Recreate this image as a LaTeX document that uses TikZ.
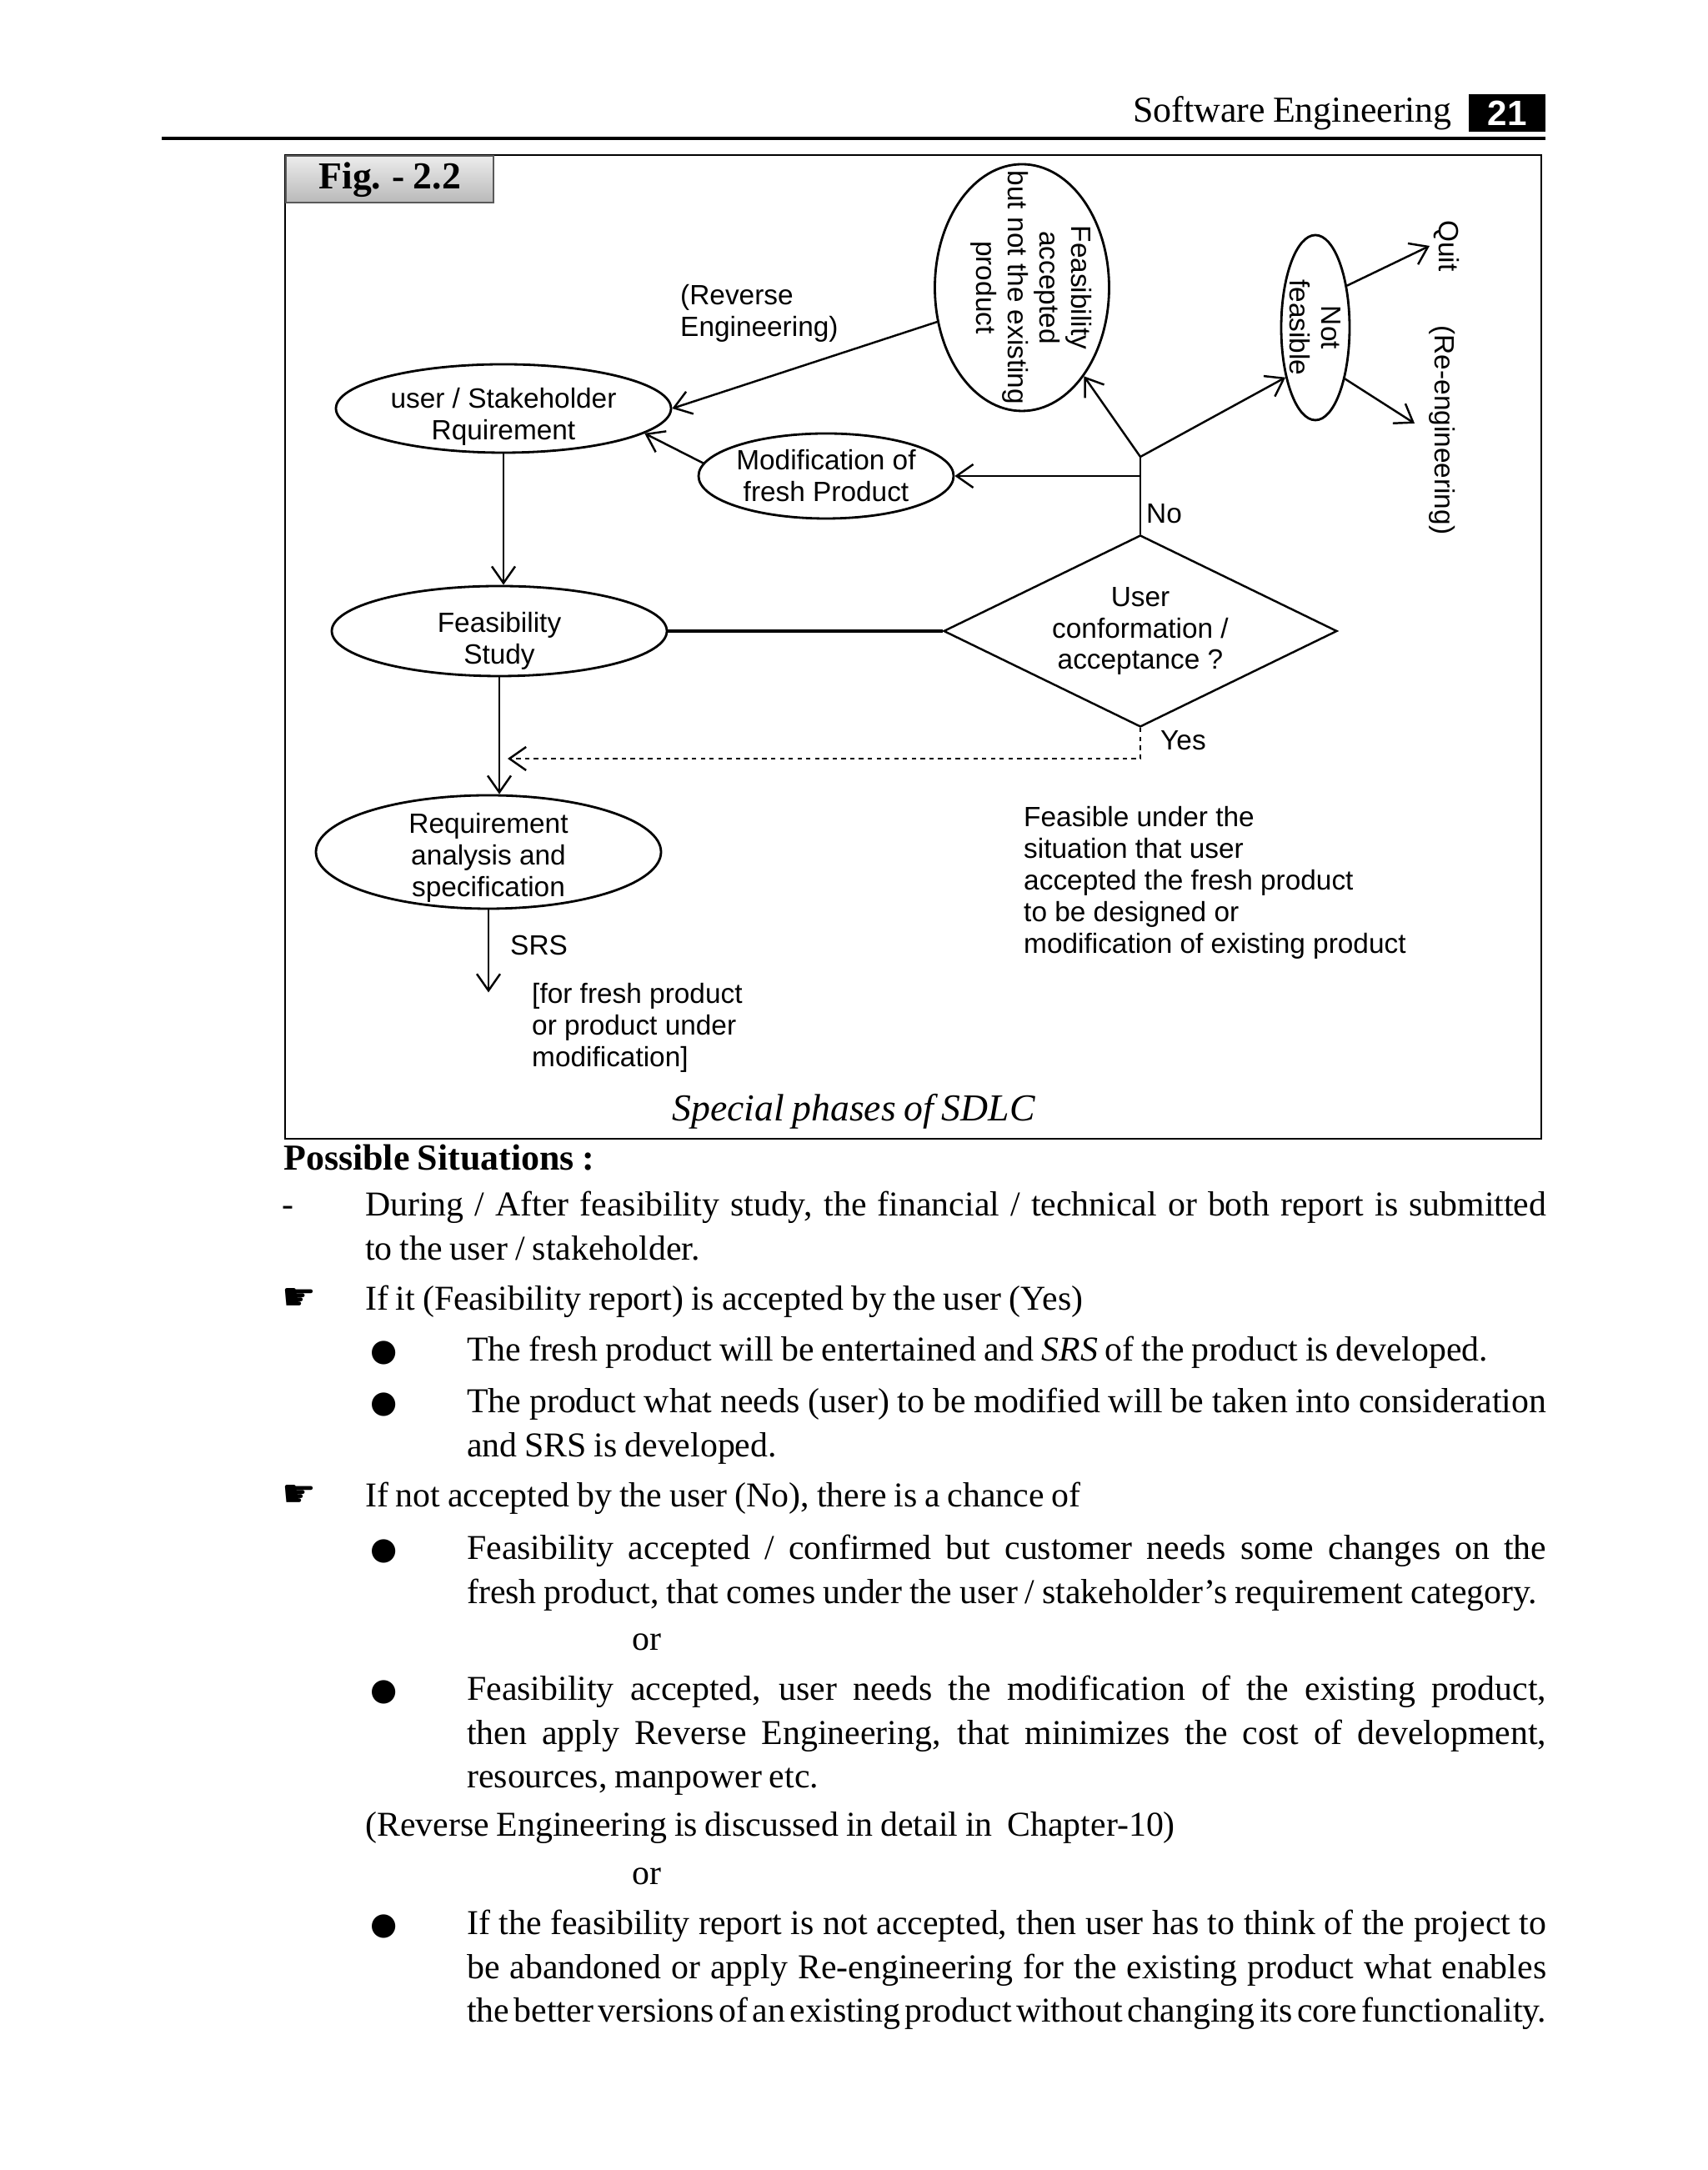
\documentclass[tikz,border=0pt]{standalone}
\usepackage{fontspec}
\setmainfont{Liberation Serif}[WordSpace={0.85,1.2,2.5}]
\setsansfont{Liberation Sans}
\newfontfamily\symbolfont{DejaVu Sans}
\usetikzlibrary{shapes.geometric,arrows.meta,positioning,calc}

\newcommand{\dfont}{\sffamily\fontsize{9.5}{10.8}\selectfont}
\newcommand{\bfont}{\rmfamily\fontsize{11.9}{14.8}\selectfont\hyphenpenalty=10000\exhyphenpenalty=10000}
\newcommand{\handmark}{{\symbolfont\fontsize{13}{13}\selectfont ☛}}
\newcommand{\dotmark}{{\symbolfont\fontsize{10.5}{10.5}\selectfont ●}}
% invisible struts that move the text inside an ellipse
\newcommand{\upstrut}[1]{\rule{0pt}{#1}}
\newcommand{\downstrut}[1]{\rule[-#1]{0pt}{0pt}}

\begin{document}
\begin{tikzpicture}[>={Straight Barb[length=2mm,width=2.8mm]}, line width=0.7pt,
  phase/.style={draw, ellipse, line width=0.8pt, inner sep=-1cm, align=center, font=\dfont},
  decision/.style={draw, diamond, line width=0.7pt, inner sep=-1cm, align=center, font=\dfont},
  lbl/.style={inner sep=0pt, align=left, font=\dfont},
  rotlbl/.style={rotate=-90, inner sep=1pt, font=\dfont},
  yesline/.style={dash pattern=on 1.5pt off 1.5pt},
  bodypar/.style={anchor=base west, inner sep=0pt, font=\bfont, align=justify, text width=12.95cm},
  bodywide/.style={anchor=base west, inner sep=0pt, font=\bfont, align=justify, text width=14.17cm},
  itemmark/.style={anchor=base, inner sep=0pt, font=\bfont}]
  \useasboundingbox (0,0) rectangle (20.48,26.03);

  % page header
  \node[anchor=east, inner sep=0pt, font=\rmfamily\fontsize{12.5}{14}\selectfont] (hdr) at (17.43,24.67) {Software Engineering};
  \node[fill=black, text=white, font=\sffamily\bfseries\fontsize{12}{14}\selectfont,
    minimum width=0.92cm, minimum height=0.45cm, inner sep=0pt] (pgno) at (18.08,24.675) {21};
  \draw[line width=1.3pt] (1.94,24.37) -- (18.54,24.37);

  % figure frame
  \draw[line width=0.6pt] (3.42,12.37) rectangle (18.49,24.17);
  \node[draw=gray!70!black, top color=gray!15, bottom color=gray!55, anchor=north west,
    minimum width=2.49cm, minimum height=0.56cm, inner sep=0pt,
    font=\bfseries\fontsize{13}{15}\selectfont] (figlbl) at (3.42,24.17) {Fig. - 2.2};

  % phases
  \node[phase, minimum width=4.02cm, minimum height=1.06cm] (usr) at (6.04,21.13) {\upstrut{0.44cm}user / Stakeholder\\Rquirement};
  \node[phase, minimum width=3.06cm, minimum height=1.02cm] (modif) at (9.91,20.32) {Modification of\\fresh Product};
  \node[phase, rotate=-90, minimum width=2.96cm, minimum height=2.09cm] (facc) at (12.26,22.58)
    {Feasibility\\accepted\\but not the existing\\product\downstrut{0.29cm}};
  \node[phase, rotate=-90, minimum width=2.22cm, minimum height=0.82cm] (notf) at (15.78,22.10) {Not\\feasible};
  \node[phase, minimum width=4.02cm, minimum height=1.08cm] (feas) at (5.99,18.46) {\upstrut{0.48cm}Feasibility\\Study};
  \node[phase, minimum width=4.14cm, minimum height=1.36cm] (reqa) at (5.86,15.81) {\upstrut{0.38cm}Requirement\\analysis and\\specification};
  \node[decision, minimum width=4.72cm, minimum height=2.3cm] (accept) at (13.68,18.46) {User\\conformation /\\acceptance ?};

  % outcomes of not feasible
  \node[rotlbl] (quit) at (17.35,23.08) {Quit};
  \node[rotlbl] (reeng) at (17.30,20.87) {(Re-engineering)};

  % labels and notes
  \node[lbl, anchor=west] (revlbl) at (8.15,22.27) {(Reverse\\Engineering)};
  \node[lbl, anchor=west] (nolbl) at (13.74,19.87) {No};
  \node[lbl, anchor=west] (yeslbl) at (13.91,17.15) {Yes};
  \node[lbl, anchor=west] (srsnote) at (6.37,13.70) {[for fresh product\\or product under\\modification]};
  \node[lbl, anchor=west] (feasnote) at (12.27,15.44)
    {Feasible under the\\situation that user\\accepted the fresh product\\to be designed or\\modification of existing product};
  \node[font=\itshape\fontsize{13}{15}\selectfont] (caption) at (10.24,12.70) {Special phases of SDLC};

  % connectors
  \coordinate (branch) at (13.68,20.55);
  \draw (accept.north) -- (branch);
  \draw[->] (branch) -- (facc);
  \draw[->] (branch) -- (notf.329);
  \draw[->] (branch |- modif) -- (modif.east);
  \draw[->] (facc.292) -- (usr.east);
  \draw[->] (modif.174) -- (usr.350);
  \draw[->] (notf.143) -- (quit.south);
  \draw[->, shorten >=1.5mm] (notf.30) -- (reeng.south);
  \draw[->] (usr.south) -- (usr.south |- feas.north);
  \draw[line width=1pt] (feas.east) -- (accept.west);
  \draw[->] (feas.south) -- (feas.south |- reqa.north);
  \coordinate (yesturn) at (13.68,16.93);
  \draw[yesline, ->] (accept.south) -- (yesturn) -- ([xshift=1mm]yesturn -| feas.south);
  \coordinate[below=0.99cm of reqa.south] (srsend);
  \draw[->] (reqa.south) -- (srsend) node[midway, right, xshift=2.5mm, yshift=0.7mm, lbl] (srslbl) {SRS};

  % text below the figure
  \node[anchor=west, inner sep=0pt, font=\bfseries\fontsize{12.5}{15}\selectfont] (possible) at (3.39,12.14) {Possible\ Situations\ :};

  \node[itemmark] (m1) at (3.45,11.44) {-};
  \node[bodywide] (t1) at (4.37,11.44) {During / After feasibility study, the financial / technical or both report is submitted\linebreak to the user / stakeholder.};

  \node[itemmark] (m2) at (3.59,10.31) {\handmark};
  \node[bodywide] (t2) at (4.37,10.31) {If it (Feasibility report) is accepted by the user (Yes)};

  \node[itemmark] (m3) at (4.61,9.70) {\dotmark};
  \node[bodypar] (t3) at (5.59,9.70) {The fresh product will be entertained and \textit{SRS} of the product is developed.};

  \node[itemmark] (m4) at (4.61,9.08) {\dotmark};
  \node[bodypar] (t4) at (5.59,9.08) {The product what needs (user) to be modified will be taken into consideration\linebreak and SRS is developed.};

  \node[itemmark] (m5) at (3.59,7.95) {\handmark};
  \node[bodywide] (t5) at (4.37,7.95) {If not accepted by the user (No), there is a chance of};

  \node[itemmark] (m6) at (4.61,7.32) {\dotmark};
  \node[bodypar] (t6) at (5.59,7.32) {Feasibility accepted / confirmed but customer needs some changes on the\linebreak fresh product, that comes under the user / stakeholder’s requirement category.};

  \node[anchor=base west, inner sep=0pt, font=\bfont] (or1) at (7.57,6.23) {or};

  \node[itemmark] (m7) at (4.61,5.63) {\dotmark};
  \node[bodypar] (t7) at (5.59,5.63) {Feasibility accepted, user needs the modification of the existing product,\linebreak then apply Reverse Engineering, that minimizes the cost of development,\linebreak resources, manpower etc.};

  \node[anchor=base west, inner sep=0pt, font=\bfont] (revnote) at (4.37,4.00) {(Reverse Engineering is discussed in detail in\ \ Chapter-10)};

  \node[anchor=base west, inner sep=0pt, font=\bfont] (or2) at (7.57,3.42) {or};

  \node[itemmark] (m8) at (4.61,2.82) {\dotmark};
  \node[bodypar] (t8) at (5.59,2.82) {If the feasibility report is not accepted, then user has to think of the project to\linebreak be abandoned or apply Re-engineering for the existing product what enables\linebreak the better versions of an existing product without changing its core functionality.};
\end{tikzpicture}
\end{document}
